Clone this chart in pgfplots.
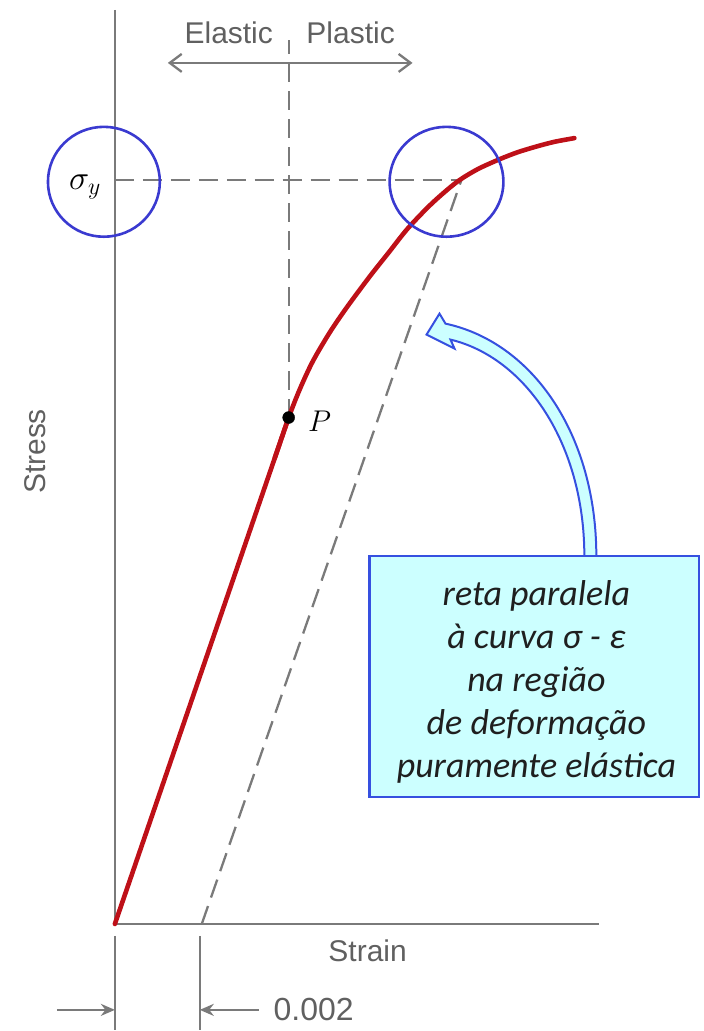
\RequirePackage{fix-cm}
\documentclass[border=0pt]{standalone}
\usepackage{pgfplots}
\pgfplotsset{compat=1.18}
\usepackage{fontspec}
\setmainfont{Liberation Sans}
\newfontfamily\calloutfont{Carlito}
\usetikzlibrary{arrows.meta}
\definecolor{axisgray}{HTML}{7A7A7A}
\definecolor{labelgray}{HTML}{606060}
\definecolor{curvered}{HTML}{BE1018}
\definecolor{circleblue}{HTML}{3A3AD0}
\definecolor{calloutfill}{HTML}{CCFFFF}
\definecolor{calloutedge}{HTML}{3650E0}

\begin{document}
\begin{tikzpicture}
\begin{axis}[
  x=1pt, y=1pt,
  xmin=-115, xmax=589, ymin=-106, ymax=925,
  hide axis, clip=false,
]
% picture frame
\path (rel axis cs:0,0) rectangle (rel axis cs:1,1);

% stress and strain axes
\addplot[axisgray, line width=2.6pt] coordinates {(0,915) (0,0) (485,0)};

% construction lines: elastic limit, yield stress, 0.2% offset line
\addplot[axisgray, line width=2.3pt, dash pattern=on 19pt off 9pt] coordinates {(174,507) (174,885)};
\addplot[axisgray, line width=2.3pt, dash pattern=on 19pt off 9pt] coordinates {(0,745) (347,745)};
\addplot[axisgray, line width=2.3pt, dash pattern=on 19pt off 9pt] coordinates {(87,0) (347,745)};

% elastic / plastic arrow
\draw[axisgray, line width=2.3pt, {Straight Barb[length=12pt,width=18pt]}-{Straight Barb[length=12pt,width=18pt]}]
  (axis cs:53,862) -- (axis cs:298,862);
\node[labelgray, font=\fontsize{30}{34}\selectfont, anchor=base] at (axis cs:114,881) {Elastic};
\node[labelgray, font=\fontsize{30}{34}\selectfont, anchor=base] at (axis cs:236,881) {Plastic};

% stress-strain curve: linear elastic part, then plastic part
\addplot[curvered, line width=4.6pt, line cap=round] coordinates {(0,0) (174,507)};
\addplot[curvered, line width=4.6pt, line cap=round, smooth, tension=0.5] coordinates {
  (160,466.2) (174,507) (185,535) (198,563) (215,592) (232,617) (255,648)
  (274,672) (293,696) (317,721) (342,742.5) (363,755.5)
  (385,765.5) (403,772.5) (422,778.3) (440,783) (460,786.7)
};

% proportional limit P
\addplot[only marks, mark=*, mark size=6pt, black] coordinates {(174,507)};
\node[font=\fontsize{30}{32}\selectfont] at (axis cs:205,503) {$P$};

% highlighted yield stress
\draw[circleblue, line width=2.6pt] (axis cs:-11,743) ellipse [x radius=56pt, y radius=55pt];
\draw[circleblue, line width=2.6pt] (axis cs:332,743) ellipse [x radius=57pt, y radius=55pt];
\node[font=\fontsize{34}{36}\selectfont] at (axis cs:-30,738) {$\sigma_y$};

% axis titles
\node[labelgray, font=\fontsize{30}{34}\selectfont, rotate=90] at (axis cs:-80,473) {Stress};
\node[labelgray, font=\fontsize{30}{34}\selectfont] at (axis cs:253,-27) {Strain};

% 0.002 offset dimension
\draw[axisgray, line width=2.3pt] (axis cs:0,-12) -- (axis cs:0,-106);
\draw[axisgray, line width=2.3pt] (axis cs:85,-12) -- (axis cs:85,-106);
\draw[axisgray, line width=2.3pt, -{Stealth[length=14pt,width=12pt]}] (axis cs:-58,-86) -- (axis cs:0,-86);
\draw[axisgray, line width=2.3pt, -{Stealth[length=14pt,width=12pt]}] (axis cs:144,-86) -- (axis cs:85,-86);
\node[labelgray, font=\fontsize{32}{34}\selectfont] at (axis cs:199,-86) {0.002};

% callout
\draw[calloutedge, fill=calloutfill, line width=2pt]
  (axis cs:482,368) .. controls (axis cs:482,489) and (axis cs:419,582) .. (axis cs:331,601)
  -- (axis cs:325,611) -- (axis cs:312,590) -- (axis cs:340,576) -- (axis cs:336,585)
  .. controls (axis cs:411,567) and (axis cs:470,481) .. (axis cs:470,368) -- cycle;
\draw[calloutedge, fill=calloutfill, line width=2.2pt] (axis cs:255,127) rectangle (axis cs:585,368);
\node[align=center, text=black!88, font=\calloutfont\itshape\fontsize{36}{43}\selectfont]
  at (axis cs:422,242) {reta paralela\\à curva σ - ε\\na região\\de deformação\\puramente elástica};
\end{axis}
\end{tikzpicture}
\end{document}
